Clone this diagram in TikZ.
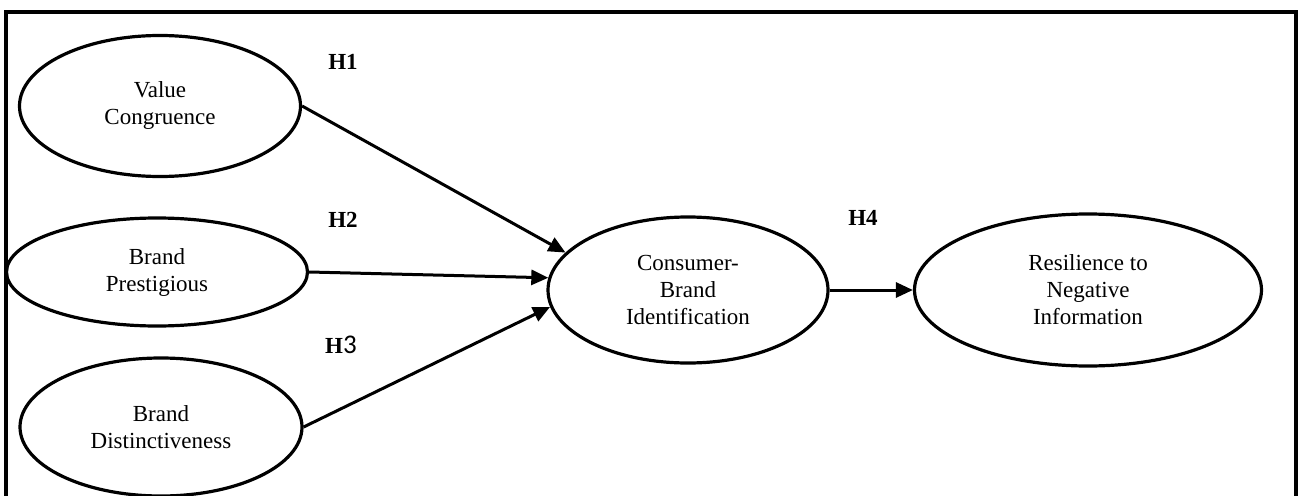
\documentclass[tikz,border=0pt]{standalone}
\usepackage{fontspec}
\setmainfont{Liberation Serif}
\newfontfamily\carlito{Carlito}
\usepackage{tikz}
\usetikzlibrary{arrows.meta,shapes.geometric}

\begin{document}
\begin{tikzpicture}[x=1pt, y=-1pt, line width=3.2pt,
  font=\fontsize{23}{27}\selectfont,
  elipse/.style={draw, ellipse, align=center, inner sep=0pt},
  hipo/.style={font=\fontsize{23}{27}\selectfont\bfseries},
  flecha/.style={-{Triangle[length=17pt,width=15pt]}, line width=3pt}]
  \useasboundingbox (0,0) rectangle (1303,495);
  \draw (6,12) rectangle (1296,520);
  % constructos
  \node[elipse, minimum width=281pt, minimum height=141pt] (vc) at (160,106) {Value\\Congruence};
  \node[elipse, minimum width=301pt, minimum height=108pt] (bp) at (157,272) {Brand\\Prestigious};
  \node[elipse, minimum width=282pt, minimum height=138pt] (bd) at (161,427) {Brand\\Distinctiveness};
  \node[elipse, minimum width=280pt, minimum height=146pt] (cbi) at (688,290) {Consumer-\\Brand\\Identification};
  \node[elipse, minimum width=347pt, minimum height=152pt] (res) at (1088,290) {Resilience to\\Negative\\Information};
  % hipotesis
  \node[hipo] (h1) at (343,62) {H1};
  \node[hipo] (h2) at (343,220) {H2};
  \node[hipo] (h3) at (341,345) {H{\carlito\mdseries\fontsize{27}{27}\selectfont 3}};
  \node[hipo] (h4) at (863,218) {H4};
  \draw[flecha] (vc.east) -- (cbi.163);
  \draw[flecha] (bp.east) -- (cbi.175);
  \draw[flecha] (bd.east) -- (cbi.187);
  \draw[flecha] (cbi.east) -- (res.west);
\end{tikzpicture}
\end{document}
